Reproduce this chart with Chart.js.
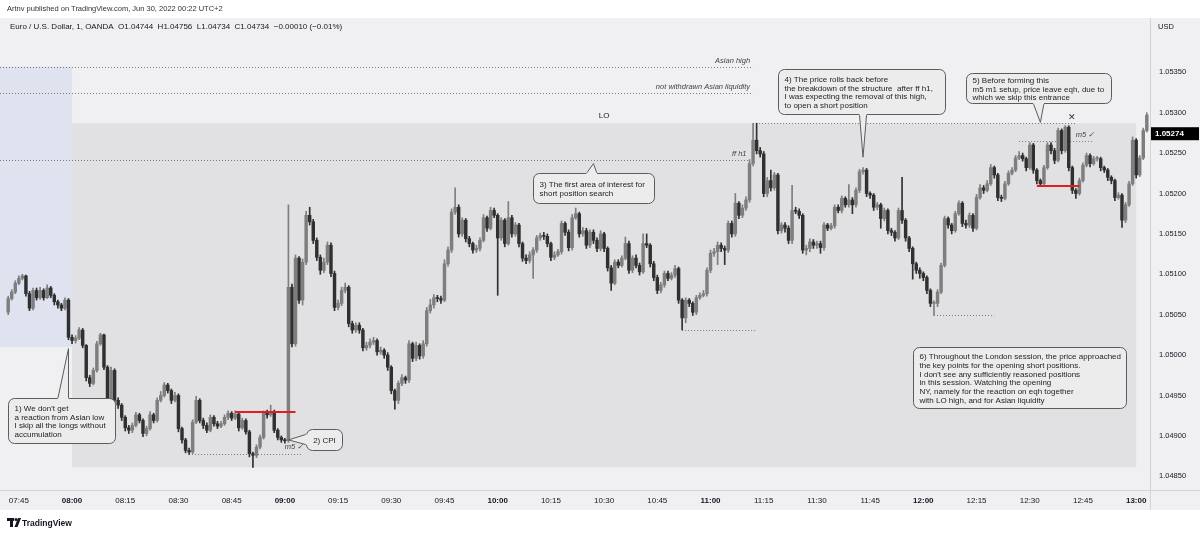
<!DOCTYPE html>
<html>
<head>
<meta charset="utf-8">
<script src="https://cdn.jsdelivr.net/npm/chart.js@4.4.0/dist/chart.umd.min.js"></script>
<style>
html, body { margin: 0; padding: 0; background: #fff; }
#wrap { position: relative; width: 1200px; height: 535px; overflow: hidden; font-family: "Liberation Sans", Arial, sans-serif; }
canvas { position: absolute; left: 0; top: 0; }
.t { position: absolute; white-space: nowrap; color: #131722; }
</style>
</head>
<body>
<div id="wrap">
  <canvas id="chart" width="1200" height="535"></canvas>
  <div class="t" style="left:7px;top:4px;font-size:7.5px;color:#333">Artnv published on TradingView.com, Jun 30, 2022 00:22 UTC+2</div>
  <div class="t" style="left:10px;top:22px;font-size:8px">Euro / U.S. Dollar, 1, OANDA&nbsp; O1.04744&nbsp; H1.04756&nbsp; L1.04734&nbsp; C1.04734&nbsp; −0.00010 (−0.01%)</div>
  <div class="t" style="left:1158px;top:22px;font-size:7.5px">USD</div>
  <div class="t" style="left:22px;top:518px;font-size:8.5px;font-weight:bold;color:#131722">TradingView</div>
</div>
<script>
// 1-minute EURUSD candles, first one at 07:42
const startTime = "07:42";
const firstOpen = 1.05053;

const closes = [
  1.05070,1.05078,1.05089,1.05095,1.05098,1.05076,1.05058,1.05080,1.05071,1.05080,
  1.05071,1.05083,1.05074,1.05066,1.05062,1.05058,1.05068,1.05022,1.05018,1.05021,
  1.05031,1.05012,1.04972,1.04965,1.04981,1.05014,1.05025,1.04985,1.04940,1.04981,
  1.04944,1.04938,1.04923,1.04910,1.04907,1.04913,1.04926,1.04919,1.04903,1.04909,
  1.04926,1.04919,1.04944,1.04950,1.04963,1.04956,1.04944,1.04950,1.04909,1.04895,
  1.04882,1.04880,1.04917,1.04944,1.04919,1.04913,1.04907,1.04923,1.04915,1.04912,
  1.04915,1.04923,1.04928,1.04922,1.04927,1.04910,1.04919,1.04905,1.04878,1.04876,
  1.04886,1.04898,1.04928,1.04926,1.04930,1.04907,1.04898,1.04895,1.04894,1.05084,
  1.05014,1.05120,1.05068,1.05115,1.05173,1.05165,1.05142,1.05121,1.05105,1.05115,
  1.05136,1.05101,1.05059,1.05064,1.05080,1.05084,1.05039,1.05031,1.05037,1.05031,
  1.05009,1.05012,1.05016,1.05018,1.05004,1.05006,1.05000,1.04985,1.04956,1.04944,
  1.04965,1.04972,1.04969,1.05014,1.04996,1.05012,1.04999,1.05014,1.05055,1.05062,
  1.05071,1.05070,1.05068,1.05113,1.05130,1.05177,1.05183,1.05150,1.05167,1.05144,
  1.05138,1.05130,1.05132,1.05142,1.05170,1.05157,1.05179,1.05173,1.05145,1.05167,
  1.05138,1.05170,1.05150,1.05161,1.05138,1.05120,1.05117,1.05124,1.05130,1.05145,
  1.05148,1.05147,1.05138,1.05121,1.05124,1.05128,1.05163,1.05152,1.05133,1.05170,
  1.05175,1.05150,1.05154,1.05136,1.05152,1.05142,1.05132,1.05150,1.05132,1.05108,
  1.05089,1.05115,1.05111,1.05120,1.05138,1.05105,1.05120,1.05111,1.05103,1.05138,
  1.05136,1.05113,1.05096,1.05080,1.05087,1.05101,1.05095,1.05099,1.05107,1.05068,
  1.05046,1.05068,1.05064,1.05053,1.05071,1.05074,1.05076,1.05105,1.05126,1.05128,
  1.05136,1.05132,1.05130,1.05163,1.05150,1.05188,1.05173,1.05182,1.05192,1.05237,
  1.05266,1.05253,1.05249,1.05200,1.05216,1.05207,1.05223,1.05154,1.05161,1.05157,
  1.05142,1.05179,1.05178,1.05173,1.05130,1.05132,1.05140,1.05136,1.05138,1.05133,
  1.05161,1.05157,1.05160,1.05183,1.05179,1.05194,1.05186,1.05192,1.05186,1.05204,
  1.05227,1.05229,1.05200,1.05198,1.05183,1.05186,1.05169,1.05179,1.05154,1.05152,
  1.05145,1.05179,1.05167,1.05145,1.05132,1.05113,1.05105,1.05101,1.05096,1.05080,
  1.05064,1.05064,1.05078,1.05111,1.05169,1.05161,1.05154,1.05175,1.05188,1.05163,
  1.05161,1.05173,1.05157,1.05195,1.05207,1.05204,1.05212,1.05232,1.05223,1.05195,
  1.05194,1.05212,1.05225,1.05229,1.05244,1.05247,1.05243,1.05232,1.05260,1.05229,
  1.05216,1.05212,1.05232,1.05260,1.05253,1.05241,1.05278,1.05253,1.05282,1.05232,
  1.05204,1.05200,1.05216,1.05235,1.05247,1.05237,1.05243,1.05243,1.05232,1.05229,
  1.05220,1.05216,1.05195,1.05198,1.05167,1.05186,1.05212,1.05266,1.05223,1.05244,
  1.05278,1.05297
];

const highs = [
  1.05073,1.05081,1.05092,1.05098,1.05100,1.05099,1.05079,1.05083,1.05083,1.05084,
  1.05082,1.05087,1.05085,1.05076,1.05068,1.05064,1.05071,1.05070,1.05025,1.05024,
  1.05034,1.05033,1.05013,1.04975,1.04984,1.05017,1.05027,1.05026,1.04987,1.04985,
  1.04983,1.04947,1.04940,1.04925,1.04913,1.04916,1.04929,1.04928,1.04921,1.04912,
  1.04930,1.04928,1.04947,1.04955,1.04966,1.04965,1.04958,1.04954,1.04952,1.04911,
  1.04897,1.04885,1.04920,1.04949,1.04946,1.04922,1.04916,1.04926,1.04925,1.04918,
  1.04918,1.04926,1.04931,1.04930,1.04931,1.04929,1.04922,1.04921,1.04907,1.04880,
  1.04889,1.04901,1.04931,1.04932,1.04938,1.04932,1.04909,1.04900,1.04897,1.05186,
  1.05088,1.05124,1.05122,1.05119,1.05178,1.05183,1.05168,1.05145,1.05124,1.05120,
  1.05140,1.05139,1.05104,1.05068,1.05084,1.05089,1.05086,1.05042,1.05040,1.05040,
  1.05033,1.05016,1.05020,1.05022,1.05020,1.05010,1.05008,1.05003,1.04987,1.04958,
  1.04968,1.04976,1.04974,1.05018,1.05016,1.05016,1.05014,1.05018,1.05059,1.05069,
  1.05075,1.05074,1.05073,1.05118,1.05134,1.05181,1.05207,1.05186,1.05170,1.05169,
  1.05147,1.05140,1.05136,1.05145,1.05174,1.05172,1.05183,1.05182,1.05175,1.05170,
  1.05169,1.05190,1.05173,1.05164,1.05163,1.05140,1.05124,1.05128,1.05133,1.05148,
  1.05151,1.05152,1.05150,1.05140,1.05128,1.05131,1.05166,1.05165,1.05155,1.05174,
  1.05182,1.05177,1.05158,1.05157,1.05155,1.05155,1.05145,1.05154,1.05152,1.05134,
  1.05111,1.05118,1.05118,1.05123,1.05146,1.05141,1.05123,1.05124,1.05114,1.05150,
  1.05150,1.05138,1.05116,1.05099,1.05090,1.05104,1.05104,1.05102,1.05111,1.05109,
  1.05070,1.05071,1.05070,1.05066,1.05074,1.05077,1.05080,1.05108,1.05130,1.05132,
  1.05140,1.05139,1.05135,1.05166,1.05166,1.05200,1.05190,1.05186,1.05196,1.05242,
  1.05287,1.05287,1.05257,1.05252,1.05220,1.05229,1.05226,1.05225,1.05164,1.05164,
  1.05160,1.05210,1.05183,1.05181,1.05175,1.05136,1.05144,1.05143,1.05141,1.05141,
  1.05164,1.05163,1.05163,1.05186,1.05186,1.05197,1.05196,1.05211,1.05195,1.05207,
  1.05230,1.05232,1.05231,1.05202,1.05200,1.05189,1.05188,1.05182,1.05181,1.05157,
  1.05154,1.05182,1.05220,1.05169,1.05147,1.05134,1.05115,1.05108,1.05103,1.05098,
  1.05082,1.05067,1.05081,1.05114,1.05172,1.05171,1.05163,1.05178,1.05191,1.05190,
  1.05167,1.05176,1.05175,1.05199,1.05211,1.05210,1.05216,1.05236,1.05234,1.05225,
  1.05198,1.05215,1.05228,1.05232,1.05247,1.05252,1.05250,1.05245,1.05263,1.05262,
  1.05231,1.05218,1.05235,1.05263,1.05263,1.05256,1.05281,1.05280,1.05284,1.05284,
  1.05234,1.05206,1.05219,1.05238,1.05250,1.05249,1.05246,1.05246,1.05245,1.05234,
  1.05231,1.05222,1.05218,1.05201,1.05200,1.05189,1.05215,1.05270,1.05268,1.05247,
  1.05281,1.05300
];

const lows = [
  1.05050,1.05068,1.05076,1.05087,1.05093,1.05073,1.05055,1.05056,1.05068,1.05069,
  1.05068,1.05070,1.05071,1.05062,1.05058,1.05055,1.05056,1.05019,1.05014,1.05015,
  1.05019,1.05009,1.04968,1.04961,1.04963,1.04979,1.05012,1.04982,1.04936,1.04938,
  1.04940,1.04934,1.04919,1.04906,1.04903,1.04904,1.04911,1.04916,1.04899,1.04900,
  1.04907,1.04916,1.04917,1.04942,1.04948,1.04953,1.04940,1.04942,1.04905,1.04891,
  1.04879,1.04877,1.04878,1.04915,1.04916,1.04909,1.04904,1.04905,1.04912,1.04909,
  1.04910,1.04913,1.04920,1.04919,1.04920,1.04906,1.04908,1.04902,1.04874,1.04861,
  1.04873,1.04884,1.04896,1.04922,1.04924,1.04904,1.04895,1.04892,1.04891,1.04892,
  1.05010,1.05011,1.05064,1.05062,1.05112,1.05161,1.05138,1.05117,1.05100,1.05102,
  1.05112,1.05097,1.05055,1.05056,1.05061,1.05077,1.05035,1.05027,1.05028,1.05027,
  1.05005,1.05006,1.05009,1.05013,1.05000,1.05001,1.04996,1.04981,1.04952,1.04933,
  1.04940,1.04962,1.04965,1.04966,1.04992,1.04993,1.04995,1.04996,1.05011,1.05052,
  1.05058,1.05066,1.05064,1.05066,1.05110,1.05127,1.05174,1.05146,1.05147,1.05140,
  1.05134,1.05126,1.05127,1.05129,1.05140,1.05153,1.05155,1.05170,1.05074,1.05142,
  1.05134,1.05136,1.05146,1.05147,1.05134,1.05116,1.05113,1.05114,1.05095,1.05127,
  1.05142,1.05143,1.05134,1.05117,1.05118,1.05122,1.05125,1.05148,1.05129,1.05130,
  1.05168,1.05146,1.05147,1.05132,1.05133,1.05138,1.05128,1.05129,1.05128,1.05104,
  1.05080,1.05087,1.05108,1.05109,1.05118,1.05101,1.05102,1.05108,1.05099,1.05101,
  1.05133,1.05109,1.05092,1.05076,1.05077,1.05084,1.05092,1.05093,1.05096,1.05064,
  1.05031,1.05040,1.05060,1.05049,1.05050,1.05069,1.05072,1.05073,1.05102,1.05122,
  1.05112,1.05128,1.05112,1.05127,1.05146,1.05147,1.05169,1.05170,1.05179,1.05189,
  1.05234,1.05249,1.05245,1.05196,1.05196,1.05203,1.05204,1.05150,1.05151,1.05152,
  1.05138,1.05138,1.05175,1.05169,1.05126,1.05124,1.05128,1.05132,1.05132,1.05126,
  1.05130,1.05154,1.05155,1.05157,1.05176,1.05176,1.05183,1.05183,1.05175,1.05183,
  1.05201,1.05224,1.05196,1.05194,1.05179,1.05180,1.05157,1.05166,1.05150,1.05148,
  1.05141,1.05143,1.05163,1.05141,1.05128,1.05094,1.05101,1.05095,1.05092,1.05076,
  1.05060,1.05049,1.05060,1.05076,1.05109,1.05157,1.05150,1.05152,1.05173,1.05159,
  1.05157,1.05158,1.05153,1.05155,1.05193,1.05200,1.05202,1.05210,1.05219,1.05191,
  1.05190,1.05192,1.05210,1.05223,1.05227,1.05242,1.05240,1.05228,1.05230,1.05225,
  1.05212,1.05209,1.05210,1.05230,1.05249,1.05237,1.05239,1.05249,1.05251,1.05228,
  1.05200,1.05194,1.05198,1.05214,1.05233,1.05233,1.05235,1.05240,1.05228,1.05226,
  1.05216,1.05212,1.05191,1.05193,1.05158,1.05164,1.05184,1.05210,1.05219,1.05221,
  1.05242,1.05276
];

const lastPrice = 1.05274;
const priceTicks = [1.0485, 1.049, 1.0495, 1.05, 1.0505, 1.051, 1.0515, 1.052, 1.0525, 1.053, 1.0535];
const timeTicks = ["07:45","08:00","08:15","08:30","08:45","09:00","09:15","09:30","09:45","10:00","10:15",
                   "10:30","10:45","11:00","11:15","11:30","11:45","12:00","12:15","12:30","12:45","13:00"];

// sessions and levels drawn on the chart
const asiaSession = { to: "08:00", top: 1.05357, bottom: 1.05010 };
const londonSession = { from: "08:00", to: "13:00", top: 1.05287, bottom: 1.04861 };
const dottedLevels = [
  { from: null, to: "11:12", price: 1.05357, label: "Asian high" },
  { from: null, to: "11:12", price: 1.05325, label: "not withdrawn Asian liquidity" },
  { from: null, to: "11:11", price: 1.05242, label: "ff h1" },
  { from: "11:12", to: "12:43", price: 1.05287 },
  { from: "08:33", to: "09:05", price: 1.04877 },
  { from: "10:52", to: "11:13", price: 1.05031 },
  { from: "12:03", to: "12:20", price: 1.05049 },
  { from: "12:27", to: "12:48", price: 1.05265 }
];
const redLevels = [
  { from: "08:46", to: "09:03", price: 1.04930 },
  { from: "12:32", to: "12:44", price: 1.05209 }
];

const callouts = [
  { t0: "07:42", t1: "08:12", p0: 1.04947, p1: 1.04891, tail: { side: "top", a: "07:56", b: "07:59", t: "07:59", p: 1.05008 },
    lines: ["1) We don't get", "a reaction from Asian low", "I skip all the longs without", "accumulation"] },
  { t0: "09:06", t1: "09:16", p0: 1.04909, p1: 1.04882, tail: { side: "left", a: 1.04902, b: 1.04889, t: "09:01", p: 1.04895 },
    lines: ["2) CPI"], center: true },
  { t0: "10:10", t1: "10:44", p0: 1.05225, p1: 1.05188, tail: { side: "top", a: "10:25", b: "10:28", t: "10:27", p: 1.05237 },
    lines: ["3) The first area of interest for", "short position search"] },
  { t0: "11:19", t1: "12:06", p0: 1.05354, p1: 1.05299, tail: { side: "bottom", a: "11:42", b: "11:44", t: "11:43", p: 1.05245 },
    lines: ["4) The price rolls back before", "the breakdown of the structure  after ff h1,", "I was expecting the removal of this high,", "to open a short position"] },
  { t0: "12:12", t1: "12:53", p0: 1.05349, p1: 1.05312, tail: { side: "bottom", a: "12:31", b: "12:34", t: "12:33", p: 1.05288 },
    lines: ["5) Before forming this", "m5 m1 setup, price leave eqh, due to", "which we skip this entrance"] },
  { t0: "11:57", t1: "12:57", p0: 1.05010, p1: 1.04934, tail: null,
    lines: ["6) Throughout the London session, the price approached", "the key points for the opening short positions.",
            "I don't see any sufficiently reasoned positions", "in this session. Watching the opening",
            "NY, namely for the reaction on eqh together", "with LO high, and for Asian liquidity"] }
];
const marks = [
  { t: "09:00", p: 1.04886, text: "m5 ✓" },
  { t: "12:43", p: 1.05273, text: "m5 ✓" }
];

const UP = "#7e7e7e";
const DOWN = "#303030";
const PANE = "#f0f0f2";
const LONDON = "#e1e1e4";
const ASIA = "#dfe3ef";
const FONT = '"Liberation Sans", Arial, sans-serif';

function toMin(s) { const [h, m] = s.split(":").map(Number); return h * 60 + m; }
const T0 = toMin(startTime);
function T(s) { return toMin(s) - T0; }
function label(i) {
  const m = T0 + i;
  return String(Math.floor(m / 60)).padStart(2, "0") + ":" + String(m % 60).padStart(2, "0");
}

const opens = closes.map((c, i) => i === 0 ? firstOpen : closes[i - 1]);
const isUp = closes.map((c, i) => c >= opens[i]);

const tvPlugin = {
  id: "tvDraw",
  beforeDraw(chart) {
    const { ctx, chartArea: a, scales: { x, y } } = chart;
    const X = v => x.getPixelForValue(v), Y = v => y.getPixelForValue(v);
    ctx.save();
    ctx.fillStyle = "#ffffff";
    ctx.fillRect(0, 0, chart.width, chart.height);
    ctx.fillStyle = PANE;
    ctx.fillRect(0, 18, chart.width, 492);

    ctx.fillStyle = ASIA;
    ctx.fillRect(a.left, Y(asiaSession.top), X(T(asiaSession.to)) - a.left, Y(asiaSession.bottom) - Y(asiaSession.top));
    ctx.fillStyle = LONDON;
    const lx = X(T(londonSession.from)), rx = X(T(londonSession.to));
    ctx.fillRect(lx, Y(londonSession.top), rx - lx, Y(londonSession.bottom) - Y(londonSession.top));

    ctx.strokeStyle = "#d3d4d8";
    ctx.lineWidth = 1;
    ctx.beginPath();
    ctx.moveTo(Math.round(a.right) + 0.5, 18);
    ctx.lineTo(Math.round(a.right) + 0.5, 510);
    ctx.moveTo(0, Math.round(a.bottom) + 0.5);
    ctx.lineTo(chart.width, Math.round(a.bottom) + 0.5);
    ctx.stroke();

    // logo
    ctx.fillStyle = "#131722";
    ctx.fillRect(7, 518, 7, 3);
    ctx.fillRect(10, 518, 3, 9);
    ctx.beginPath();
    ctx.arc(16, 519.5, 1.5, 0, Math.PI * 2);
    ctx.fill();
    ctx.beginPath();
    ctx.moveTo(18, 518); ctx.lineTo(21, 518); ctx.lineTo(17.5, 527); ctx.lineTo(14.5, 527);
    ctx.fill();
    ctx.restore();
  },
  beforeDatasetsDraw(chart) {
    const { ctx, chartArea: a, scales: { x, y } } = chart;
    const X = v => x.getPixelForValue(v), Y = v => y.getPixelForValue(v);
    ctx.save();
    ctx.lineWidth = 1;
    ctx.strokeStyle = "#7a7a7a";
    ctx.setLineDash([1, 2]);
    dottedLevels.forEach(l => {
      const yy = Math.round(Y(l.price)) + 0.5;
      ctx.beginPath();
      ctx.moveTo(l.from ? X(T(l.from)) : a.left, yy);
      ctx.lineTo(X(T(l.to)), yy);
      ctx.stroke();
    });
    ctx.setLineDash([]);
    ctx.font = "italic 7.5px " + FONT;
    ctx.fillStyle = "#444";
    ctx.textAlign = "right";
    ctx.textBaseline = "alphabetic";
    dottedLevels.filter(l => l.label).forEach(l => {
      ctx.fillText(l.label, X(T(l.to)) - 3, Y(l.price) - 4);
    });
    ctx.textAlign = "center";
    ctx.font = "8px " + FONT;
    ctx.fillStyle = "#222";
    ctx.fillText("LO", X(T("10:30")), Y(londonSession.top) - 5);
    ctx.restore();
  },
  afterDatasetsDraw(chart) {
    const { ctx, chartArea: a, scales: { x, y } } = chart;
    const X = v => x.getPixelForValue(v), Y = v => y.getPixelForValue(v);
    ctx.save();
    ctx.strokeStyle = "#e01e1e";
    ctx.lineWidth = 2;
    redLevels.forEach(l => {
      const yy = Math.round(Y(l.price));
      ctx.beginPath();
      ctx.moveTo(X(T(l.from)), yy);
      ctx.lineTo(X(T(l.to)), yy);
      ctx.stroke();
    });

    ctx.font = "italic 7.5px " + FONT;
    ctx.fillStyle = "#444";
    ctx.textAlign = "left";
    ctx.textBaseline = "middle";
    marks.forEach(m => ctx.fillText(m.text, X(T(m.t)), Y(m.p)));
    ctx.font = "9px " + FONT;
    ctx.fillStyle = "#333";
    ctx.textAlign = "center";
    ctx.fillText("✕", X(T("12:42")), Y(1.05294));

    callouts.forEach(c => {
      const x0 = Math.round(X(T(c.t0))) + 0.5, x1 = Math.round(X(T(c.t1))) + 0.5;
      const y0 = Math.round(Y(c.p0)) + 0.5, y1 = Math.round(Y(c.p1)) + 0.5;
      const r = 6;
      ctx.beginPath();
      ctx.roundRect(x0, y0, x1 - x0, y1 - y0, r);
      ctx.fillStyle = "#ececec";
      ctx.fill();
      ctx.strokeStyle = "#5c5c5c";
      ctx.lineWidth = 1;
      ctx.stroke();
      if (c.tail) {
        const tl = c.tail;
        let pA, pB;
        const tip = [X(T(tl.t)), Y(tl.p)];
        if (tl.side === "top") { pA = [X(T(tl.a)), y0]; pB = [X(T(tl.b)), y0]; }
        if (tl.side === "bottom") { pA = [X(T(tl.a)), y1]; pB = [X(T(tl.b)), y1]; }
        if (tl.side === "left") { pA = [x0, Y(tl.a)]; pB = [x0, Y(tl.b)]; }
        ctx.beginPath();
        ctx.moveTo(pA[0], pA[1]); ctx.lineTo(tip[0], tip[1]); ctx.lineTo(pB[0], pB[1]);
        ctx.fill();
        ctx.stroke();
        // hide box border under tail base
        ctx.beginPath();
        ctx.moveTo(pA[0], pA[1]); ctx.lineTo(pB[0], pB[1]);
        ctx.strokeStyle = "#ececec";
        ctx.lineWidth = 1.5;
        ctx.stroke();
        ctx.strokeStyle = "#5c5c5c";
        ctx.lineWidth = 1;
      }
      ctx.fillStyle = "#1e1e1e";
      ctx.font = "8px " + FONT;
      ctx.textBaseline = "alphabetic";
      if (c.center) {
        ctx.textAlign = "center";
        ctx.fillText(c.lines[0], (x0 + x1) / 2, (y0 + y1) / 2 + 3);
      } else {
        ctx.textAlign = "left";
        const lh = 8.8;
        const start = (y0 + y1) / 2 - (c.lines.length - 1) * lh / 2 + 3;
        c.lines.forEach((s, k) => ctx.fillText(s, x0 + 6, start + k * lh));
      }
    });

    // last price label
    const py = Y(lastPrice);
    ctx.fillStyle = "#000";
    ctx.fillRect(a.right + 1, py - 6.5, 48, 13);
    ctx.fillStyle = "#fff";
    ctx.font = "bold 8px " + FONT;
    ctx.textAlign = "left";
    ctx.textBaseline = "middle";
    ctx.fillText(lastPrice.toFixed(5), a.right + 5, py);
    ctx.restore();
  }
};

const indexes = closes.map((c, i) => i);

new Chart(document.getElementById("chart"), {
  type: "bar",
  data: {
    datasets: [
      {
        label: "wick",
        data: indexes.map(i => ({ x: i, y: [lows[i], highs[i]] })),
        backgroundColor: indexes.map(i => isUp[i] ? UP : DOWN),
        barThickness: 1,
        grouped: false,
        order: 2
      },
      {
        label: "body",
        data: indexes.map(i => ({ x: i, y: [opens[i], closes[i]] })),
        backgroundColor: indexes.map(i => isUp[i] ? UP : DOWN),
        barThickness: 2.8,
        minBarLength: 1,
        grouped: false,
        order: 1
      }
    ]
  },
  options: {
    responsive: false,
    devicePixelRatio: 1,
    animation: false,
    layout: { padding: { top: 40, bottom: 25, left: 0, right: 0 } },
    plugins: { legend: { display: false }, tooltip: { enabled: false } },
    scales: {
      x: {
        type: "linear",
        min: -2.31,
        max: 321.9,
        offset: false,
        grid: { display: false, drawTicks: false },
        border: { display: false },
        afterBuildTicks: axis => { axis.ticks = timeTicks.map(s => ({ value: T(s) })); },
        afterFit: axis => { axis.height = 20; },
        ticks: {
          autoSkip: false,
          maxRotation: 0,
          padding: 6,
          color: "#131722",
          font: ctx => ({ family: FONT, size: 8, weight: (ctx.tick && (T0 + ctx.tick.value) % 60 === 0) ? "bold" : "normal" }),
          callback: v => label(v)
        }
      },
      y: {
        position: "right",
        min: 1.04833,
        max: 1.05390,
        grid: { display: false, drawTicks: false },
        border: { display: false },
        afterBuildTicks: axis => { axis.ticks = priceTicks.map(v => ({ value: v })); },
        afterFit: axis => { axis.width = 50; },
        ticks: {
          padding: 9,
          color: "#131722",
          font: { family: FONT, size: 7.5 },
          callback: v => Number(v).toFixed(5)
        }
      }
    }
  },
  plugins: [tvPlugin]
});
</script>
</body>
</html>
